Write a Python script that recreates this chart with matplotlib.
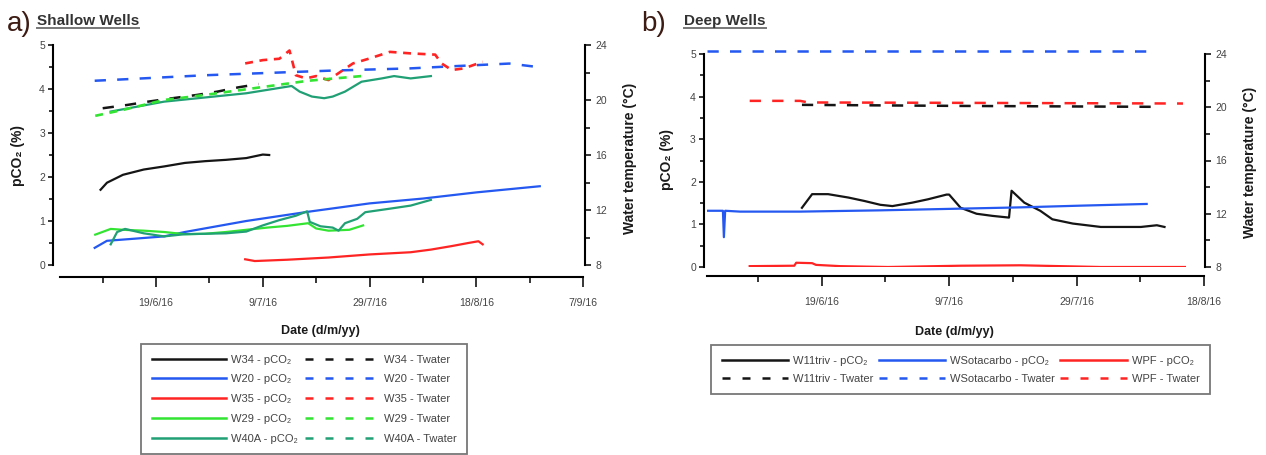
import numpy as np
import pandas as pd
import matplotlib
matplotlib.use("Agg")
import matplotlib.pyplot as plt
import matplotlib.dates as mdates
from matplotlib.lines import Line2D
from matplotlib.ticker import FixedLocator, FuncFormatter, MultipleLocator

plt.rcParams["font.family"] = ["Liberation Sans", "DejaVu Sans"]

START = pd.Timestamp("2016-06-01")

# ---- a) shallow wells, x = days after 1 June 2016 ----
w34_co2_day = [7.6, 8.8, 11.8, 15.7, 19.5, 23.4, 27.2, 31.1, 34.9, 38.0, 39.2]
w34_co2 = [1.71, 1.87, 2.05, 2.17, 2.24, 2.32, 2.36, 2.39, 2.43, 2.51, 2.50]
w34_t_day = [8.0, 12.6, 16.5, 21.1, 25.7, 29.5, 33.4, 37.2]
w34_t = [19.40, 19.64, 19.88, 20.13, 20.37, 20.61, 20.92, 21.16]

w20_co2_day = [6.5, 8.8, 14.2, 19.5, 23.4, 34.9, 46.5, 58.0, 68.0, 78.0, 89.9]
w20_co2 = [0.39, 0.55, 0.60, 0.65, 0.75, 1.00, 1.21, 1.40, 1.51, 1.65, 1.79]
w20_t_day = [6.5, 11.8, 27.2, 50.3, 65.7, 73.4, 84.2, 89.5]
w20_t = [21.4, 21.5, 21.8, 22.13, 22.3, 22.45, 22.65, 22.4]

w35_co2_day = [34.7, 36.5, 42.6, 50.3, 58.0, 65.7, 69.5, 73.4, 76.5, 78.4, 79.2]
w35_co2 = [0.13, 0.09, 0.12, 0.17, 0.24, 0.29, 0.35, 0.43, 0.50, 0.54, 0.47]
w35_t_day = [34.7, 38.0, 41.1, 43.0, 44.2, 46.1, 48.0, 50.3, 52.6, 54.9, 58.0,
             61.8, 65.7, 70.3, 71.5, 73.4, 75.7, 79.2]
w35_t = [22.66, 22.9, 23.0, 23.6, 21.8, 21.57, 21.74, 21.45, 22.06, 22.66, 23.02,
         23.5, 23.39, 23.3, 22.66, 22.18, 22.3, 22.78]

w29_co2_day = [6.6, 9.5, 11.8, 15.7, 19.5, 23.4, 27.2, 31.1, 34.9, 38.8, 42.6,
               46.5, 48.0, 50.3, 54.2, 56.8]
w29_co2 = [0.69, 0.82, 0.80, 0.78, 0.75, 0.70, 0.71, 0.75, 0.80, 0.85, 0.89,
           0.95, 0.83, 0.78, 0.80, 0.90]
w29_t_day = [6.6, 11.8, 19.5, 27.2, 34.9, 46.5, 56.5]
w29_t = [18.85, 19.28, 20.0, 20.37, 20.78, 21.4, 21.74]

w40a_co2_day = [9.5, 10.7, 12.2, 15.7, 19.5, 23.4, 31.1, 34.9, 38.0, 41.1, 44.2,
                46.3, 46.8, 48.8, 51.1, 52.2, 53.4, 55.7, 57.2, 61.8, 65.7, 69.5]
w40a_co2 = [0.47, 0.75, 0.82, 0.72, 0.65, 0.70, 0.72, 0.76, 0.90, 1.02, 1.12,
            1.22, 0.98, 0.88, 0.85, 0.78, 0.95, 1.05, 1.20, 1.28, 1.35, 1.48]
w40a_t_day = [9.5, 19.5, 34.9, 43.4, 44.9, 47.2, 49.5, 51.1, 53.4, 56.5, 60.3,
              62.6, 65.7, 69.5]
w40a_t = [19.16, 19.88, 20.49, 21.02, 20.61, 20.25, 20.13, 20.25, 20.61, 21.33,
          21.57, 21.74, 21.57, 21.74]

# ---- b) deep wells ----
w11_co2_day = [14.9, 16.5, 19.0, 22.2, 24.7, 27.2, 29.1, 32.2, 34.7, 37.6, 38.0,
               39.8, 42.3, 44.8, 47.4, 47.8, 49.8, 52.3, 54.2, 57.4, 61.8, 68.1,
               70.6, 71.8]
w11_co2 = [1.39, 1.71, 1.71, 1.63, 1.55, 1.46, 1.43, 1.51, 1.59, 1.70, 1.70,
           1.39, 1.25, 1.20, 1.16, 1.79, 1.51, 1.32, 1.12, 1.02, 0.94, 0.94,
           0.98, 0.94]
w11_t_day = [14.9, 39.8, 71.2]
w11_t = [20.18, 20.1, 20.03]

wsot_co2_day = [0.0, 2.5, 2.65, 2.85, 5.2, 14.6, 27.2, 39.8, 49.2, 58.6, 69.0]
wsot_co2 = [1.32, 1.32, 0.70, 1.32, 1.30, 1.30, 1.33, 1.37, 1.40, 1.44, 1.48]
wsot_t_day = [0.0, 69.0]
wsot_t = [24.24, 24.24]

wpf_co2_day = [6.7, 13.7, 14.0, 16.5, 17.1, 20.9, 28.4, 39.8, 49.2, 52.3, 61.8, 75.0]
wpf_co2 = [0.02, 0.03, 0.10, 0.09, 0.05, 0.02, 0.00, 0.03, 0.04, 0.03, 0.00, 0.00]
wpf_t_day = [6.7, 14.6, 15.9, 39.8, 74.7]
wpf_t = [20.48, 20.48, 20.36, 20.33, 20.28]

BLACK = "#151515"
BLUE = "#2458f0"
RED = "#ff2424"
GREEN = "#33e433"
TEAL = "#20a074"
GREY = "#444444"
DASH = (0, (4.5, 4.5))
SHORT = (0, (3, 2.5))
LEG_DASH = (0, (3.2, 4.8))


def dates(days):
    return (START + pd.to_timedelta(np.array(days), unit="D")).to_numpy()


def fmt_date(x, pos=None):
    d = mdates.num2date(x)
    return f"{d.day}/{d.month}/{d.year % 100}"


def style(ax, ax2, end, off_l, off_r, off_b):
    ax.set_xlim(mdates.date2num(START), mdates.date2num(pd.Timestamp(end)))
    ax.set_ylim(0, 5)
    ax2.set_ylim(8, 24)
    for a in (ax, ax2):
        a.spines["top"].set_visible(False)
        for s in a.spines.values():
            s.set_linewidth(1.5)
    ax.spines["right"].set_visible(False)
    ax2.spines["left"].set_visible(False)
    ax2.spines["bottom"].set_visible(False)
    ax.spines["left"].set_position(("outward", off_l))
    ax.spines["bottom"].set_position(("outward", off_b))
    ax2.spines["right"].set_position(("outward", off_r))

    ax.yaxis.set_major_locator(MultipleLocator(1))
    ax.yaxis.set_minor_locator(MultipleLocator(0.5))
    ax2.yaxis.set_major_locator(MultipleLocator(4))
    ax2.yaxis.set_minor_locator(MultipleLocator(2))
    major = pd.date_range("2016-06-19", end, freq="20D")
    minor = pd.date_range("2016-06-09", end, freq="20D")
    ax.xaxis.set_major_locator(FixedLocator(mdates.date2num(major)))
    ax.xaxis.set_minor_locator(FixedLocator(mdates.date2num(minor)))
    ax.xaxis.set_major_formatter(FuncFormatter(fmt_date))

    ax.tick_params(axis="y", which="major", length=3.8, width=1.1, labelsize=7.5,
                   labelcolor=GREY, pad=2)
    ax.tick_params(axis="y", which="minor", length=3.0, width=1.1)
    ax2.tick_params(axis="y", which="major", length=4.5, width=1.1, labelsize=7.5,
                    labelcolor=GREY, pad=3)
    ax2.tick_params(axis="y", which="minor", length=3.5, width=1.1)
    ax.tick_params(axis="x", which="major", length=7, width=1.1, labelsize=7.5,
                   labelcolor=GREY, pad=8)
    ax.tick_params(axis="x", which="minor", length=4, width=1.1)


fig = plt.figure(figsize=(12.66, 4.55), dpi=100)
W, H = 1266, 455

# ---------- a) shallow wells ----------
ax = fig.add_axes([60 / W, 1 - 265 / H, 523 / W, 220 / H])
ax2 = ax.twinx()
style(ax, ax2, "2016-09-07", 5, 1.5, 8.6)

ax.plot(dates(w34_co2_day), w34_co2, color=BLACK, lw=1.6)
ax.plot(dates(w20_co2_day), w20_co2, color=BLUE, lw=1.6)
ax.plot(dates(w35_co2_day), w35_co2, color=RED, lw=1.6)
ax.plot(dates(w29_co2_day), w29_co2, color=GREEN, lw=1.6)
ax.plot(dates(w40a_co2_day), w40a_co2, color=TEAL, lw=1.6)

ax2.plot(dates(w34_t_day), w34_t, color=BLACK, lw=1.8, ls=DASH)
ax2.plot(dates(w20_t_day), w20_t, color=BLUE, lw=1.8, ls=DASH)
ax2.plot(dates(w40a_t_day), w40a_t, color=TEAL, lw=1.6)
ax2.plot(dates(w35_t_day), w35_t, color=RED, lw=1.9, ls=SHORT)
ax2.plot(dates(w29_t_day), w29_t, color=GREEN, lw=1.9, ls=SHORT)

# ---------- b) deep wells ----------
bx = fig.add_axes([707 / W, 1 - 267 / H, 497 / W, 213 / H])
bx2 = bx.twinx()
style(bx, bx2, "2016-08-18", 2.2, 0.7, 6.5)

bx.plot(dates(w11_co2_day), w11_co2, color=BLACK, lw=1.6)
bx.plot(dates(wsot_co2_day), wsot_co2, color=BLUE, lw=1.6)
bx.plot(dates(wpf_co2_day), wpf_co2, color=RED, lw=1.6)

bx2.plot(dates(wpf_t_day), wpf_t, color=RED, lw=1.8, ls=DASH)
bx2.plot(dates(w11_t_day), w11_t, color=BLACK, lw=1.8, ls=DASH)
bx2.plot(dates(wsot_t_day), wsot_t, color=BLUE, lw=1.8, ls=DASH, clip_on=False)

# ---------- axis labels ----------
lab = dict(fontsize=10, fontweight="bold", color="#1a1a1a")
fig.text(18 / W, 1 - 156 / H, "pCO₂ (%)", rotation=90, ha="center", va="center", **lab)
fig.text(630 / W, 1 - 158 / H, "Water temperature (°C)", rotation=90,
         ha="center", va="center", **lab)
fig.text(667 / W, 1 - 159 / H, "pCO₂ (%)", rotation=90, ha="center", va="center", **lab)
fig.text(1250 / W, 1 - 162 / H, "Water temperature (°C)", rotation=90,
         ha="center", va="center", **lab)
fig.text(320 / W, 1 - 331 / H, "Date (d/m/yy)", ha="center", va="center",
         fontsize=9, fontweight="bold", color="#1a1a1a")
fig.text(954 / W, 1 - 332 / H, "Date (d/m/yy)", ha="center", va="center",
         fontsize=9, fontweight="bold", color="#1a1a1a")

# ---------- panel titles ----------
fig.text(7 / W, 1 - 24 / H, "a)", fontsize=20, color="#3d1c14", va="center")
fig.text(641 / W, 1 - 24 / H, "b)", fontsize=20, color="#3d1c14", va="center")
t1 = fig.text(37 / W, 1 - 25 / H, "Shallow Wells", fontsize=11, fontweight="bold",
              color="#333333", va="baseline")
t2 = fig.text(684 / W, 1 - 25 / H, "Deep Wells", fontsize=11, fontweight="bold",
              color="#333333", va="baseline")
renderer = fig.canvas.get_renderer()
for t in (t1, t2):
    bb = t.get_window_extent(renderer)
    y = (1 - 28 / H)
    fig.add_artist(Line2D([bb.x0 / W, bb.x1 / W], [y, y], color="#777777", lw=1.4))

# ---------- legends ----------
leg_kw = dict(frameon=True, fancybox=False, fontsize=8, labelcolor=GREY,
              handletextpad=0.45, borderpad=0.95, borderaxespad=0,
              edgecolor="#555555")

names_a = ["W34", "W20", "W35", "W29", "W40A"]
cols_a = [BLACK, BLUE, RED, GREEN, TEAL]
handles_a = [Line2D([], [], color=c, lw=1.8) for c in cols_a]
handles_a += [Line2D([], [], color=c, lw=1.8, ls=LEG_DASH) for c in cols_a]
labels_a = [f"{n} - pCO₂" for n in names_a] + [f"{n} - Twater" for n in names_a]
la = fig.legend(handles_a, labels_a, loc="upper left",
                bbox_to_anchor=(141 / W, 1 - 344 / H), ncol=2, handlelength=6.7,
                columnspacing=0.6, labelspacing=0.88, **leg_kw)
la.get_frame().set_linewidth(1.3)

names_b = ["W11triv", "WSotacarbo", "WPF"]
cols_b = [BLACK, BLUE, RED]
handles_b, labels_b = [], []
for n, c in zip(names_b, cols_b):
    handles_b += [Line2D([], [], color=c, lw=1.8),
                  Line2D([], [], color=c, lw=1.8, ls=LEG_DASH)]
    labels_b += [f"{n} - pCO₂", f"{n} - Twater"]
lb = fig.legend(handles_b, labels_b, loc="upper left",
                bbox_to_anchor=(711 / W, 1 - 345 / H), ncol=3, handlelength=6.0,
                columnspacing=0.45, labelspacing=0.72, **leg_kw)
lb.get_frame().set_linewidth(1.3)

fig.savefig("out.png", dpi=100)
